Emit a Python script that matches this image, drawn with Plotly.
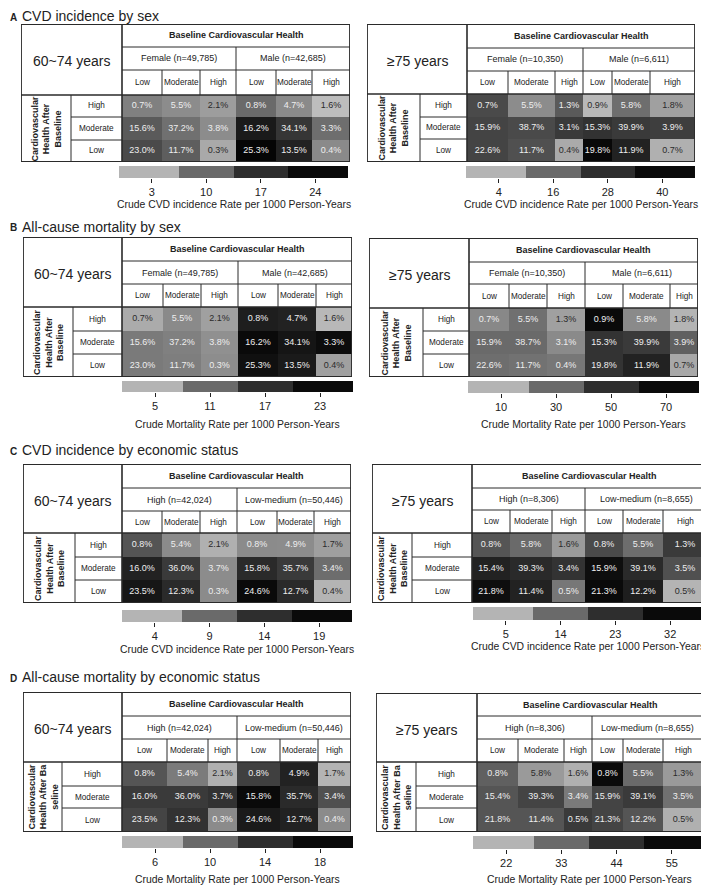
import plotly.graph_objects as go

PAGE_W, PAGE_H = 709, 886
OFF = 8                       # default body margin of the written html page
FIG_W, FIG_H = PAGE_W - OFF, PAGE_H - OFF
FONT = "Liberation Sans, Arial, Helvetica, sans-serif"

# ---------------- data ----------------
BASELINE_LEVELS = ["Low", "Moderate", "High"]          # columns within each group
AFTER_LEVELS = ["High", "Moderate", "Low"]             # rows, top to bottom
HEADER_TITLE = "Baseline Cardiovascular Health"
AGE_6074 = "60~74 years"
AGE_75 = "≥75 years"

SEX_GROUPS_6074 = ["Female (n=49,785)", "Male (n=42,685)"]
SEX_GROUPS_75 = ["Female (n=10,350)", "Male (n=6,611)"]
ECON_GROUPS_6074 = ["High (n=42,024)", "Low-medium (n=50,446)"]
ECON_GROUPS_75 = ["High (n=8,306)", "Low-medium (n=8,655)"]

# cell texts (share of participants)
PCT_SEX_6074 = [["0.7%", "5.5%", "2.1%", "0.8%", "4.7%", "1.6%"],
                ["15.6%", "37.2%", "3.8%", "16.2%", "34.1%", "3.3%"],
                ["23.0%", "11.7%", "0.3%", "25.3%", "13.5%", "0.4%"]]
PCT_SEX_75 = [["0.7%", "5.5%", "1.3%", "0.9%", "5.8%", "1.8%"],
              ["15.9%", "38.7%", "3.1%", "15.3%", "39.9%", "3.9%"],
              ["22.6%", "11.7%", "0.4%", "19.8%", "11.9%", "0.7%"]]
PCT_ECON_6074 = [["0.8%", "5.4%", "2.1%", "0.8%", "4.9%", "1.7%"],
                 ["16.0%", "36.0%", "3.7%", "15.8%", "35.7%", "3.4%"],
                 ["23.5%", "12.3%", "0.3%", "24.6%", "12.7%", "0.4%"]]
PCT_ECON_75 = [["0.8%", "5.8%", "1.6%", "0.8%", "5.5%", "1.3%"],
               ["15.4%", "39.3%", "3.4%", "15.9%", "39.1%", "3.5%"],
               ["21.8%", "11.4%", "0.5%", "21.3%", "12.2%", "0.5%"]]

# crude rates per 1000 person-years (estimated from the cell shading)
RATE_A_6074 = [[7.9, 6.8, 5.2, 10.0, 7.0, 1.1],
               [11.9, 9.4, 6.8, 20.9, 16.1, 9.6],
               [13.7, 11.4, 4.0, 26.1, 19.3, 7.0]]
RATE_A_75 = [[22.4, 10.5, 19.2, 2.6, 15.4, 7.2],
             [23.6, 22.4, 25.6, 27.2, 25.6, 24.8],
             [23.6, 21.2, 5.7, 41.4, 32.0, 4.6]]
RATE_B_6074 = [[5.7, 8.4, 6.6, 19.6, 19.0, 4.3],
               [9.7, 9.2, 7.9, 23.0, 21.1, 22.6],
               [9.7, 9.4, 8.2, 22.0, 20.4, 6.6]]
RATE_B_75 = [[21.8, 28.4, 15.4, 70.0, 21.4, 10.0],
             [30.0, 30.0, 21.4, 48.4, 46.0, 33.4],
             [29.0, 27.8, 26.4, 48.4, 56.6, 13.2]]
RATE_C_6074 = [[10.8, 6.8, 4.3, 6.8, 6.7, 5.4],
               [15.7, 13.0, 6.7, 14.6, 13.0, 8.8],
               [17.4, 14.6, 6.8, 19.0, 14.6, 4.0]]
RATE_C_75 = [[17.2, 14.0, 8.2, 18.8, 13.6, 21.2],
             [26.0, 24.0, 22.3, 31.0, 24.0, 17.9],
             [31.0, 26.0, 12.4, 32.0, 27.0, 5.0]]
RATE_D_6074 = [[11.4, 9.1, 6.2, 12.8, 15.3, 6.0],
               [13.2, 13.2, 13.7, 18.0, 14.4, 11.7],
               [12.5, 13.7, 8.2, 16.2, 15.3, 8.2]]
RATE_D_75 = [[34.9, 25.9, 22.6, 55.0, 33.0, 25.9],
             [36.9, 39.9, 30.6, 39.9, 41.8, 32.1],
             [36.9, 36.9, 41.8, 39.9, 36.9, 22.6]]

TICKS_A_6074 = [3, 10, 17, 24]
TICKS_A_75 = [4, 16, 28, 40]
TICKS_B_6074 = [5, 11, 17, 23]
TICKS_B_75 = [10, 30, 50, 70]
TICKS_C_6074 = [4, 9, 14, 19]
TICKS_C_75 = [5, 14, 23, 32]
TICKS_D_6074 = [6, 10, 14, 18]
TICKS_D_75 = [22, 33, 44, 55]

CVD_TITLE = "Crude CVD incidence Rate per 1000 Person-Years"
MORT_TITLE = "Crude Mortality Rate per 1000 Person-Years"

SECTIONS = [("A", "CVD incidence by sex"),
            ("B", "All-cause mortality by sex"),
            ("C", "CVD incidence by economic status"),
            ("D", "All-cause mortality by economic status")]

ROW_TITLE = "<b>Cardiovascular<br>Health After<br>Baseline</b>"
ROW_TITLE_D = "<b>Cardiovascular<br>Health After Ba<br>seline</b>"

PANELS = [
    dict(age=AGE_6074, groups=SEX_GROUPS_6074, pct=PCT_SEX_6074, rate=RATE_A_6074, ticks=TICKS_A_6074, ctitle=CVD_TITLE, rtitle=ROW_TITLE),
    dict(age=AGE_75, groups=SEX_GROUPS_75, pct=PCT_SEX_75, rate=RATE_A_75, ticks=TICKS_A_75, ctitle=CVD_TITLE, rtitle=ROW_TITLE),
    dict(age=AGE_6074, groups=SEX_GROUPS_6074, pct=PCT_SEX_6074, rate=RATE_B_6074, ticks=TICKS_B_6074, ctitle=MORT_TITLE, rtitle=ROW_TITLE),
    dict(age=AGE_75, groups=SEX_GROUPS_75, pct=PCT_SEX_75, rate=RATE_B_75, ticks=TICKS_B_75, ctitle=MORT_TITLE, rtitle=ROW_TITLE),
    dict(age=AGE_6074, groups=ECON_GROUPS_6074, pct=PCT_ECON_6074, rate=RATE_C_6074, ticks=TICKS_C_6074, ctitle=CVD_TITLE, rtitle=ROW_TITLE),
    dict(age=AGE_75, groups=ECON_GROUPS_75, pct=PCT_ECON_75, rate=RATE_C_75, ticks=TICKS_C_75, ctitle=CVD_TITLE, rtitle=ROW_TITLE),
    dict(age=AGE_6074, groups=ECON_GROUPS_6074, pct=PCT_ECON_6074, rate=RATE_D_6074, ticks=TICKS_D_6074, ctitle=MORT_TITLE, rtitle=ROW_TITLE_D),
    dict(age=AGE_75, groups=ECON_GROUPS_75, pct=PCT_ECON_75, rate=RATE_D_75, ticks=TICKS_D_75, ctitle=MORT_TITLE, rtitle=ROW_TITLE_D),
]

# ---------------- layout (page-pixel geometry of each table) ----------------
GEOM = [
    dict(box=(21, 24, 350, 162), rot=71, lab=122, hdr=(47, 70, 95), rows=(117, 140),
         cols=(122, 162, 200, 236, 276, 312, 350), bar=(119, 166, 348, 178), ty=204),
    dict(box=(367, 24, 695, 162), rot=420, lab=467, hdr=(48, 71, 94), rows=(117, 139),
         cols=(467, 508, 555, 583, 612, 650, 695), bar=(466, 166, 695, 178), ty=204),
    dict(box=(23, 237, 352, 377), rot=73, lab=122, hdr=(261, 284, 307), rows=(331, 354),
         cols=(122, 163, 201, 238, 278, 316, 352), bar=(122, 381, 353, 392), ty=424),
    dict(box=(369, 238, 698, 377), rot=423, lab=469, hdr=(262, 284, 308), rows=(331, 354),
         cols=(469, 509, 547, 585, 623, 670, 698), bar=(468, 381, 699, 393), ty=424),
    dict(box=(23, 464, 351, 603), rot=75, lab=122, hdr=(488, 511, 533), rows=(557, 580),
         cols=(122, 162, 200, 237, 277, 314, 351), bar=(122, 610, 352, 622), ty=649),
    dict(box=(372, 464, 707, 603), rot=412, lab=472, hdr=(488, 510, 533), rows=(557, 580),
         cols=(472, 510, 552, 585, 623, 663, 707), bar=(473, 607, 703, 620), ty=646),
    dict(box=(23, 692, 351, 832), rot=62, lab=122, hdr=(716, 739, 762), rows=(786, 808),
         cols=(122, 167, 208, 237, 280, 318, 351), bar=(122, 836, 353, 848), ty=879),
    dict(box=(376, 693, 703, 832), rot=416, lab=477, hdr=(716, 739, 762), rows=(786, 808),
         cols=(477, 518, 564, 592, 623, 663, 703), bar=(473, 836, 705, 849), ty=879),
]
SECTION_TITLE_Y = [7, 227, 450, 677]


def px(x):
    return (x - OFF) / FIG_W


def py(y):
    return 1 - (y - OFF) / FIG_H


# gray ramp keyed to tick index (-0.6 .. 3.6)
GRAY_STOPS = [(0.0, 200), (0.6 / 4.2, 180), (1.6 / 4.2, 106), (2.6 / 4.2, 46), (3.6 / 4.2, 10), (1.0, 0)]
COLORSCALE = [[p, f"rgb({g},{g},{g})"] for p, g in GRAY_STOPS]


def gray_at(frac):
    frac = min(max(frac, 0.0), 1.0)
    for (p0, g0), (p1, g1) in zip(GRAY_STOPS[:-1], GRAY_STOPS[1:]):
        if p0 <= frac <= p1:
            return g0 + (g1 - g0) * (frac - p0) / (p1 - p0)
    return GRAY_STOPS[-1][1]


def names(n):
    s = "" if n == 1 else str(n)
    return f"xaxis{s}", f"yaxis{s}", f"x{s}", f"y{s}"


LINE = "#2a2a2a"
TXT = "#222222"

fig = go.Figure()
shapes, annotations = [], []
layout_axes = {}

for i, (p, g) in enumerate(zip(PANELS, GEOM)):
    L, T, R, B = g["box"]
    Wd, Ht = R - L, B - T
    xa, ya, xr, yr = names(2 * i + 1)
    layout_axes[xa] = dict(domain=[px(L), px(R)], range=[0, Wd], visible=False,
                           fixedrange=True, anchor=yr)
    layout_axes[ya] = dict(domain=[py(B), py(T)], range=[Ht, 0], visible=False,
                           fixedrange=True, anchor=xr)

    ticks = p["ticks"]
    step = ticks[1] - ticks[0]
    zlo, zhi = ticks[0] - 0.6 * step, ticks[-1] + 0.6 * step

    xedges = [c - L for c in g["cols"]]
    yedges = [g["hdr"][2] - T, g["rows"][0] - T, g["rows"][1] - T, Ht]
    fig.add_trace(go.Heatmap(z=p["rate"], x=xedges, y=yedges, colorscale=COLORSCALE,
                             zmin=zlo, zmax=zhi, showscale=False, hoverinfo="skip",
                             xaxis=xr, yaxis=yr))

    # cell texts
    tx, ty, tt, tc = [], [], [], []
    for r in range(3):
        for c in range(6):
            tx.append((xedges[c] + xedges[c + 1]) / 2)
            ty.append((yedges[r] + yedges[r + 1]) / 2)
            tt.append(p["pct"][r][c])
            gv = gray_at((p["rate"][r][c] - zlo) / (zhi - zlo))
            tc.append("#2b2b2b" if gv > 150 else "#eeeeee")
    fig.add_trace(go.Scatter(x=tx, y=ty, text=tt, mode="text", textposition="middle center",
                             textfont=dict(family=FONT, size=9, color=tc), hoverinfo="skip",
                             showlegend=False, cliponaxis=False, xaxis=xr, yaxis=yr))

    def line(x0, y0, x1, y1, w=1.0):
        shapes.append(dict(type="line", xref=xr, yref=yr, x0=x0 - L, y0=y0 - T, x1=x1 - L,
                           y1=y1 - T, line=dict(color=LINE, width=w), layer="above"))

    h0, h1, h2 = g["hdr"]
    cols = g["cols"]
    line(g["lab"], h0, R, h0)
    line(g["lab"], h1, R, h1)
    for c in (1, 2, 4, 5):
        line(cols[c], h1, cols[c], h2)
    line(cols[3], h0, cols[3], h2)
    line(g["rot"], h2, g["rot"], B)
    for ryy in g["rows"]:
        line(g["rot"], ryy, g["lab"], ryy)
    line(L, h2, R, h2, 1.6)
    line(g["lab"], T, g["lab"], B, 1.6)
    shapes.append(dict(type="rect", xref=xr, yref=yr, x0=0, y0=0, x1=Wd, y1=Ht,
                       line=dict(color=LINE, width=1.8), layer="above"))

    def ann(x, y, text, size, bold=False, angle=0):
        annotations.append(dict(xref=xr, yref=yr, x=x - L, y=y - T, text=f"<b>{text}</b>" if bold else text,
                                showarrow=False, xanchor="center", yanchor="middle", textangle=angle,
                                font=dict(family=FONT, size=size, color=TXT)))

    ann((L + g["lab"]) / 2, (T + h2) / 2 + 2, p["age"], 14)
    ann((g["lab"] + R) / 2, (T + h0) / 2, HEADER_TITLE, 9, bold=True)
    ann((cols[0] + cols[3]) / 2, (h0 + h1) / 2, p["groups"][0], 9)
    ann((cols[3] + cols[6]) / 2, (h0 + h1) / 2, p["groups"][1], 9)
    for c in range(6):
        ann((cols[c] + cols[c + 1]) / 2, (h1 + h2) / 2, BASELINE_LEVELS[c % 3], 8.2)
    ry = [h2, g["rows"][0], g["rows"][1], B]
    for r in range(3):
        ann((g["rot"] + g["lab"]) / 2, (ry[r] + ry[r + 1]) / 2, AFTER_LEVELS[r], 8.2)
    annotations.append(dict(xref=xr, yref=yr, x=(L + g["rot"]) / 2 - L, y=(h2 + B) / 2 - T,
                            text=p["rtitle"], showarrow=False, textangle=-90,
                            xanchor="center", yanchor="middle",
                            font=dict(family=FONT, size=9, color=TXT)))

    # discrete legend bar
    bx0, by0, bx1, by1 = g["bar"]
    xa2, ya2, xr2, yr2 = names(2 * i + 2)
    layout_axes[xa2] = dict(domain=[px(bx0), min(px(bx1), 1.0)], range=[zlo, zhi], anchor=yr2,
                            tickvals=ticks, ticktext=[str(t) for t in ticks], ticks="outside",
                            ticklen=4, tickwidth=1.2, tickcolor="#222", showgrid=False,
                            zeroline=False, showline=False, fixedrange=True,
                            tickfont=dict(family=FONT, size=11, color=TXT))
    layout_axes[ya2] = dict(domain=[py(by1), py(by0)], range=[0, 1],
                            visible=False, fixedrange=True, anchor=xr2)
    edges = [zlo] + [(a + b) / 2 for a, b in zip(ticks[:-1], ticks[1:])] + [zhi]
    fig.add_trace(go.Heatmap(z=[ticks], x=edges, y=[0, 1], colorscale=COLORSCALE, zmin=zlo,
                             zmax=zhi, showscale=False, hoverinfo="skip", xaxis=xr2, yaxis=yr2))
    annotations.append(dict(xref="paper", yref="paper", x=px((bx0 + bx1) / 2),
                            y=py(g["ty"]), text=p["ctitle"], showarrow=False,
                            xanchor="center", yanchor="middle",
                            font=dict(family=FONT, size=10.4, color=TXT)))

for (letter, title), yy in zip(SECTIONS, SECTION_TITLE_Y):
    yc = max(yy, OFF + 8)          # keep the top title inside the drawing
    annotations.append(dict(xref="paper", yref="paper", x=0, y=py(yc + 1),
                            text=f"<b>{letter}</b>", showarrow=False, xanchor="left",
                            yanchor="middle", font=dict(family=FONT, size=10, color=TXT)))
    annotations.append(dict(xref="paper", yref="paper", x=px(20), y=py(yc),
                            text=title, showarrow=False, xanchor="left", yanchor="middle",
                            font=dict(family=FONT, size=14, color=TXT)))

fig.update_layout(width=FIG_W, height=FIG_H, margin=dict(l=0, r=0, t=0, b=0),
                  paper_bgcolor="white", plot_bgcolor="white", showlegend=False,
                  shapes=shapes, annotations=annotations, **layout_axes)

fig.write_html("out.html")
